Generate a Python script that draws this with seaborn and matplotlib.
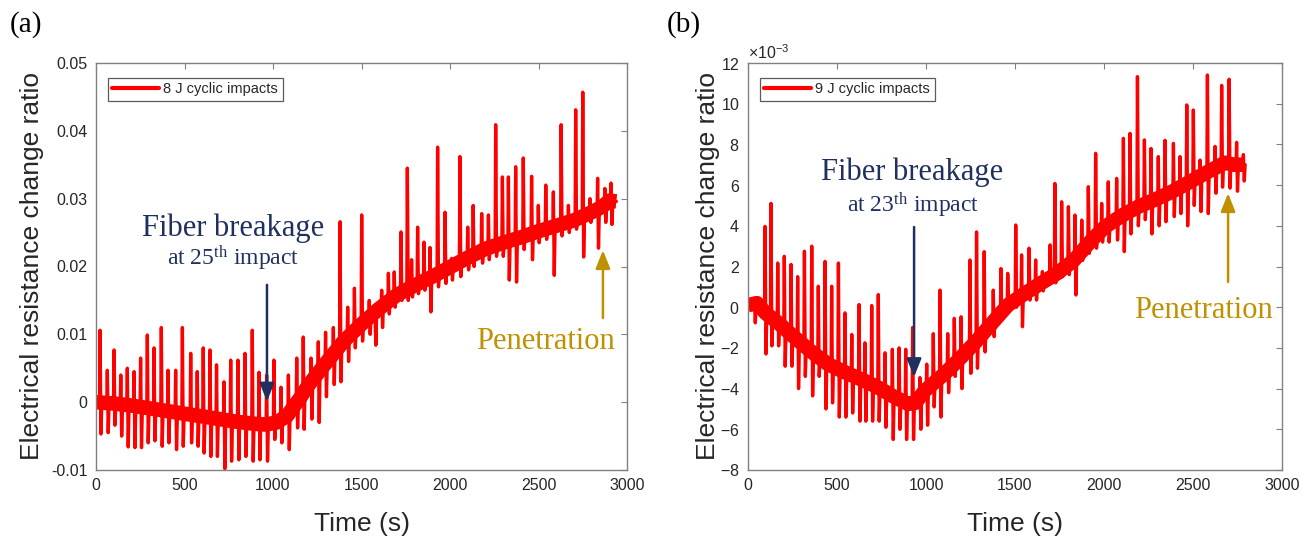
import numpy as np
import pandas as pd
import matplotlib
matplotlib.use("Agg")
import matplotlib.pyplot as plt
from matplotlib.lines import Line2D
from matplotlib.ticker import MultipleLocator, FuncFormatter, ScalarFormatter
import seaborn as sns

# ---------------- data ----------------
# Panel (a): 8 J cyclic impacts
a_base_t = [0, 100, 200, 300, 400, 500, 600, 700, 800, 900, 960, 1020, 1080, 1150, 1200,
            1300, 1400, 1500, 1600, 1700, 1800, 1900, 2000, 2100, 2200, 2300, 2400, 2500,
            2600, 2700, 2800, 2860, 2900, 2940]
a_base_v = [0.0, -0.0002, -0.0005, -0.0009, -0.0013, -0.0017, -0.0021, -0.0025, -0.0029,
            -0.0032, -0.0033, -0.0030, -0.0020, 0.0005, 0.0025, 0.0058, 0.0090, 0.0115,
            0.0138, 0.0158, 0.0172, 0.0185, 0.0199, 0.0213, 0.0226, 0.0235, 0.0243, 0.0252,
            0.0260, 0.0268, 0.0280, 0.0288, 0.0297, 0.0296]
a_imp_t = [23, 64, 102, 140, 177, 215, 252, 290, 328, 369, 407, 450, 488, 535, 572, 606,
           644, 681, 723, 761, 802, 842, 883, 921, 964, 1005, 1045, 1087, 1134, 1171, 1215,
           1256, 1297, 1341, 1379, 1422, 1460, 1501, 1544, 1576, 1614, 1652, 1685, 1723,
           1759, 1783, 1817, 1853, 1887, 1930, 1972, 2009, 2056, 2100, 2131, 2179, 2217,
           2258, 2296, 2330, 2371, 2414, 2461, 2499, 2541, 2584, 2628, 2669, 2710, 2750,
           2791, 2834, 2875, 2910]
a_imp_top = [0.0106, 0.0047, 0.0077, 0.0040, 0.0050, 0.0045, 0.0065, 0.0099, 0.0080, 0.0110,
             0.0047, 0.0047, 0.0110, 0.0072, 0.0045, 0.0080, 0.0077, 0.0055, 0.0030, 0.0062,
             0.0062, 0.0072, 0.0106, 0.0044, 0.0040, 0.0062, 0.0022, 0.0040, 0.0065, 0.0096,
             0.0065, 0.0089, 0.0103, 0.0110, 0.0266, 0.0140, 0.0168, 0.0276, 0.0150, 0.0131,
             0.0165, 0.0190, 0.0192, 0.0251, 0.0345, 0.0210, 0.0258, 0.0236, 0.0228, 0.0376,
             0.0280, 0.0212, 0.0362, 0.0258, 0.0290, 0.0278, 0.0276, 0.0409, 0.0332, 0.0332,
             0.0347, 0.0360, 0.0333, 0.0290, 0.0320, 0.0310, 0.0409, 0.0290, 0.0431, 0.0457,
             0.0300, 0.0330, 0.0315, 0.0323]
a_imp_bot = [-0.0047, -0.0045, -0.0034, -0.0050, -0.0066, -0.0067, -0.0067, -0.0060, -0.0057,
             -0.0065, -0.0060, -0.0070, -0.0065, -0.0060, -0.0065, -0.0075, -0.0080, -0.0080,
             -0.0098, -0.0087, -0.0085, -0.0080, -0.0087, -0.0085, -0.0087, -0.0055, -0.0060,
             -0.0070, -0.0038, -0.0040, -0.0025, -0.0030, 0.0008, 0.0026, 0.0030, 0.0060,
             0.0080, 0.0090, 0.0100, 0.0084, 0.0110, 0.0130, 0.0140, 0.0150, 0.0150, 0.0155,
             0.0160, 0.0165, 0.0133, 0.0170, 0.0175, 0.0180, 0.0185, 0.0195, 0.0200, 0.0205,
             0.0210, 0.0215, 0.0215, 0.0180, 0.0177, 0.0225, 0.0210, 0.0235, 0.0240, 0.0187,
             0.0245, 0.0250, 0.0255, 0.0214, 0.0265, 0.0227, 0.0265, 0.0262]

# Panel (b): 9 J cyclic impacts (values in units of 1e-3)
b_base_t = [0, 50, 100, 170, 250, 358, 450, 545, 650, 732, 820, 900, 940, 994, 1100, 1182,
            1280, 1369, 1460, 1556, 1650, 1743, 1830, 1931, 2006, 2100, 2193, 2290, 2380,
            2470, 2568, 2680, 2730, 2790]
b_base_v = [0.1, 0.2, -0.3, -0.77, -1.4, -2.2, -2.8, -3.2, -3.6, -3.95, -4.4, -4.75, -4.7,
            -4.1, -3.3, -2.6, -1.7, -0.8, 0.1, 0.68, 1.2, 1.7, 2.3, 3.3, 3.95, 4.5, 4.94,
            5.3, 5.67, 6.1, 6.58, 7.1, 7.0, 7.0]
b_imp_t = [36, 96, 129, 167, 204, 242, 279, 317, 358, 395, 433, 470, 508, 545, 583, 624,
           657, 695, 732, 770, 811, 849, 886, 925, 966, 1004, 1041, 1079, 1122, 1159, 1197,
           1247, 1284, 1327, 1378, 1421, 1459, 1504, 1537, 1579, 1616, 1654, 1697, 1724,
           1762, 1800, 1837, 1875, 1912, 1953, 1987, 2024, 2071, 2109, 2146, 2188, 2227,
           2264, 2305, 2343, 2390, 2427, 2465, 2502, 2540, 2581, 2624, 2661, 2703, 2745, 2783]
b_imp_top = [0.4, 3.97, 5.1, 2.17, 2.5, 2.1, 1.5, 2.75, 3.0, 1.03, 2.25, 1.03, 2.17, -0.28,
             -1.34, 0.13, -1.75, 0.08, 0.62, -2.24, -2.07, -2.0, -2.07, -1.0, -3.46, -2.8,
             -1.3, 0.84, -1.3, -0.55, -0.47, 2.32, 3.7, 2.73, 0.84, 1.9, 1.66, 4.04, 2.57,
             2.9, 2.32, 1.75, 3.06, 6.08, 5.18, 4.94, 4.53, 4.28, 5.92, 7.56, 5.1, 6.16,
             6.33, 8.3, 8.54, 11.33, 8.22, 7.8, 7.4, 8.2, 8.05, 7.4, 9.94, 9.69, 7.23, 11.41,
             7.9, 10.9, 11.2, 8.1, 7.5]
b_imp_bot = [-0.77, -2.3, -1.9, -1.9, -2.9, -2.9, -4.0, -3.4, -4.36, -3.4, -5.0, -4.7, -5.4,
             -5.4, -5.2, -5.6, -5.6, -5.6, -5.6, -5.9, -6.5, -6.0, -6.5, -6.5, -6.0, -5.8,
             -4.9, -5.4, -4.2, -3.4, -4.0, -3.25, -3.0, -2.2, -1.45, -0.6, 0.2, 0.0, -0.96,
             0.35, 0.35, 0.8, 1.34, 1.2, 1.5, 1.6, 0.6, 2.3, 2.65, 2.9, 3.2, 3.2, 3.3, 2.73,
             3.6, 4.0, 4.3, 3.6, 4.0, 4.2, 4.45, 4.6, 4.0, 5.0, 4.7, 4.6, 5.6, 5.9, 5.85,
             5.7, 6.2]

legend_a = "8 J cyclic impacts"
legend_b = "9 J cyclic impacts"
xlabel = "Time (s)"
ylabel = "Electrical resistance change ratio"

# ---------------- style ----------------
sns.set_theme(style="white")
plt.rcParams["font.family"] = ["Liberation Sans", "DejaVu Sans"]
plt.rcParams["axes.unicode_minus"] = False
plt.rcParams["mathtext.default"] = "regular"

RED = "#FF0000"
NAVY = "#1F2F60"
GOLD = "#BF9000"
SPINE = "#808080"
TXT = "#262626"


def build_signal(base_t, base_v, imp_t, imp_top, imp_bot, scale=1.0):
    """Sequence baseline -> up spike -> down spike -> baseline for every impact."""
    xs, ys = [], []
    bt = np.asarray(base_t, float)
    bv = np.asarray(base_v, float) * scale
    xs.append(bt[0]); ys.append(bv[0])
    for t, up, dn in zip(imp_t, imp_top, imp_bot):
        b0 = np.interp(t - 3, bt, bv)
        b1 = np.interp(t + 10, bt, bv)
        xs += [t - 3, t, t + 5, t + 10]
        ys += [b0, up * scale, dn * scale, b1]
    xs.append(bt[-1]); ys.append(bv[-1])
    return pd.DataFrame({"t": xs, "v": ys})


fig = plt.figure(figsize=(13.09, 5.41), dpi=100)
axa = fig.add_axes([96 / 1309, 71 / 541, 531 / 1309, 407 / 541])
axb = fig.add_axes([748 / 1309, 71 / 541, 534 / 1309, 407 / 541])

panels = [
    (axa, a_base_t, a_base_v, a_imp_t, a_imp_top, a_imp_bot, 1.0, legend_a),
    (axb, b_base_t, b_base_v, b_imp_t, b_imp_top, b_imp_bot, 1e-3, legend_b),
]

for ax, bt, bv, it, itop, ibot, sc, lab in panels:
    band = pd.DataFrame({"t": bt, "v": np.asarray(bv, float) * sc})
    sns.lineplot(data=band, x="t", y="v", ax=ax, color=RED, lw=10.5, sort=False,
                 estimator=None, legend=False, solid_capstyle="butt", solid_joinstyle="round")
    sig = build_signal(bt, bv, it, itop, ibot, sc)
    sns.lineplot(data=sig, x="t", y="v", ax=ax, color=RED, lw=2.4, sort=False,
                 estimator=None, legend=False)
    ax.set_xlim(0, 3000)
    ax.xaxis.set_major_locator(MultipleLocator(500))
    ax.tick_params(direction="in", top=True, right=True, length=4, width=0.8,
                   color=SPINE, labelsize=11.5, labelcolor=TXT, pad=6)
    for s in ax.spines.values():
        s.set_color(SPINE)
        s.set_linewidth(1.0)
    ax.set_xlabel(xlabel, fontsize=19, color=TXT, va="center")
    ax.set_ylabel(ylabel, fontsize=19, color=TXT, va="center")
    handle = Line2D([0], [0], color=RED, lw=3)
    leg = ax.legend(handles=[handle], labels=[lab], loc="upper left",
                    bbox_to_anchor=(12 / 531, 1 - 15 / 407), borderaxespad=0,
                    fontsize=10.5, frameon=True, fancybox=False, handlelength=3.2,
                    handletextpad=0.3, borderpad=0.3)
    leg.get_frame().set_edgecolor("#333333")
    leg.get_frame().set_linewidth(0.9)

# axis specifics
axa.set_ylim(-0.01, 0.05)
axa.yaxis.set_major_locator(MultipleLocator(0.01))
axa.yaxis.set_major_formatter(FuncFormatter(lambda v, p: f"{v:g}"))
axa.yaxis.set_label_coords(-0.1205, 0.5)
axa.xaxis.set_label_coords(0.5, -0.133)

axb.set_ylim(-0.008, 0.012)
axb.yaxis.set_major_locator(MultipleLocator(0.002))
fmt = ScalarFormatter(useMathText=True)
fmt.set_powerlimits((-3, -3))
axb.yaxis.set_major_formatter(fmt)
axb.yaxis.get_offset_text().set_fontsize(11.5)
axb.yaxis.get_offset_text().set_color(TXT)
axb.yaxis.set_label_coords(-0.075, 0.5)
axb.xaxis.set_label_coords(0.5, -0.133)

# annotations
serif = ["Liberation Serif", "DejaVu Serif"]
arrow_kw = dict(arrowstyle="-|>,head_length=0.55,head_width=0.22", lw=1.8,
                shrinkA=0, shrinkB=0, mutation_scale=20)

axa.text(774, 0.0257, "Fiber breakage", family=serif, fontsize=22, color=NAVY,
         ha="center", va="center")
axa.text(776, 0.0212, "at 25$^{th}$ impact", family=serif, fontsize=17, color=NAVY,
         ha="center", va="center")
axa.annotate("", xy=(966, 0.0001), xytext=(966, 0.0173),
             arrowprops=dict(color=NAVY, **arrow_kw))
axa.text(2537, 0.0090, "Penetration", family=serif, fontsize=22, color=GOLD,
         ha="center", va="center")
axa.annotate("", xy=(2864, 0.0224), xytext=(2864, 0.0124),
             arrowprops=dict(color=GOLD, **arrow_kw))

axb.text(921, 0.00664, "Fiber breakage", family=serif, fontsize=22, color=NAVY,
         ha="center", va="center")
axb.text(925, 0.0050, "at 23$^{th}$ impact", family=serif, fontsize=17, color=NAVY,
         ha="center", va="center")
axb.annotate("", xy=(933, -0.00343), xytext=(933, 0.00394),
             arrowprops=dict(color=NAVY, **arrow_kw))
axb.text(2556, -0.00014, "Penetration", family=serif, fontsize=22, color=GOLD,
         ha="center", va="center")
axb.annotate("", xy=(2697, 0.0056), xytext=(2697, 0.00124),
             arrowprops=dict(color=GOLD, **arrow_kw))

fig.text(26 / 1309, 1 - 25 / 541, "(a)", family=serif, fontsize=21, color="black",
         ha="center", va="center")
fig.text(684 / 1309, 1 - 25 / 541, "(b)", family=serif, fontsize=21, color="black",
         ha="center", va="center")

fig.savefig("out.png", dpi=100)
